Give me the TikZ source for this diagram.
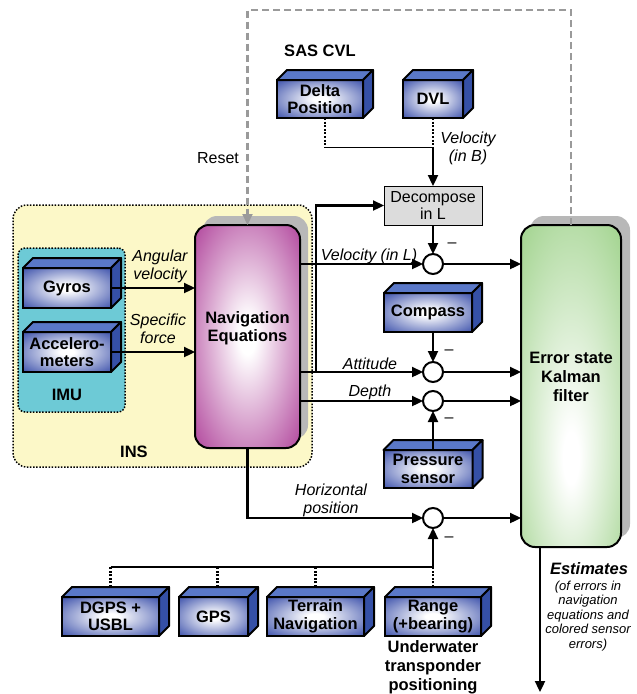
\documentclass[tikz,border=0pt]{standalone}
\usepackage{fontspec}
\setmainfont{Liberation Sans}
\usetikzlibrary{arrows.meta,calc,shadows}

\definecolor{bedge}{HTML}{3A4FAA}
\definecolor{btop}{HTML}{5A78C8}
\definecolor{bside}{HTML}{3550A6}
\definecolor{mag}{HTML}{B0449B}
\definecolor{kgreen}{HTML}{A3D490}
\definecolor{insy}{HTML}{FCF8C8}
\definecolor{imuc}{HTML}{6DCAD6}
\definecolor{shad}{HTML}{B8B8B8}
\definecolor{dgray}{HTML}{9A9A9A}
\definecolor{decg}{HTML}{DCDCDC}

\pgfdeclareradialshading{blueglow}{\pgfpointorigin}{color(0bp)=(white); color(4bp)=(white); color(36bp)=(bedge); color(50bp)=(bedge)}
\pgfdeclareradialshading{magglow}{\pgfpointorigin}{color(0bp)=(white); color(4bp)=(white); color(36bp)=(mag); color(50bp)=(mag)}
\pgfdeclareradialshading{greenglow}{\pgfpoint{0bp}{-12bp}}{color(0bp)=(white); color(4bp)=(white); color(38bp)=(kgreen); color(60bp)=(kgreen)}

\newcommand\sensorbox[6]{%
  \node[blk, minimum width=#4pt, minimum height=#5pt] (#1) at (#2,#3) {#6};
  \draw[facel, fill=btop] (#1.north west) -- ++(10,-10) -- ($(#1.north east)+(10,-10)$) -- (#1.north east) -- cycle;
  \draw[facel, fill=bside] (#1.north east) -- ++(10,-10) -- ($(#1.south east)+(10,-10)$) -- (#1.south east) -- cycle;
}

\tikzset{
  blk/.style={draw=black, line width=2pt, shading=blueglow, outer sep=0pt, inner sep=0pt,
    align=center, font=\bfseries\fontsize{16.5}{17.5}\selectfont},
  facel/.style={line width=2pt, line join=round},
  arr/.style={line width=2.3pt, -{Triangle[length=11pt,width=10pt]}},
  plain/.style={line width=2.3pt},
  dotline/.style={line width=2.6pt, dash pattern=on 2pt off 1.6pt},
  sumc/.style={circle, draw, line width=2pt, fill=white, minimum size=20pt, inner sep=0pt, outer sep=0pt},
  lbl/.style={font=\itshape\fontsize{16}{18}\selectfont, align=center, inner sep=0pt},
  blbl/.style={font=\bfseries\fontsize{16.5}{19}\selectfont, align=center, inner sep=0pt},
  rlbl/.style={font=\fontsize{16}{18}\selectfont, align=center, inner sep=0pt},
  minus/.style={font=\fontsize{16}{18}\selectfont, inner sep=0pt},
}

\begin{document}
\begin{tikzpicture}[x=1pt,y=-1pt]
\useasboundingbox (0,0) rectangle (637,694);

% INS and IMU containers
\node[draw, line width=1.5pt, dash pattern=on 1.5pt off 1.6pt, rounded corners=14pt, fill=insy,
  minimum width=299pt, minimum height=262pt, outer sep=0pt] (ins) at (162.5,336) {};
\node[draw, line width=1.5pt, dash pattern=on 1.5pt off 1.6pt, rounded corners=7pt, fill=imuc,
  minimum width=107pt, minimum height=164pt, outer sep=0pt] (imu) at (71.5,330) {};
\node[blbl] (imulbl) at (67,395) {IMU};
\node[blbl] (inslbl) at (134,452) {INS};

% Navigation equations
\node[draw, line width=2pt, rounded corners=14pt, shading=magglow, minimum width=105pt, minimum height=223pt,
  outer sep=0pt, drop shadow={shadow xshift=8pt, shadow yshift=9pt, fill=shad, opacity=1}] (nav) at (247.5,336.5) {};
\node[blbl, font=\bfseries\fontsize{16.5}{18}\selectfont] (navtxt) at (247.5,328) {Navigation\\Equations};

% Kalman filter
\node[draw, line width=2pt, rounded corners=14pt, shading=greenglow, minimum width=100pt, minimum height=322pt,
  outer sep=0pt, drop shadow={shadow xshift=9pt, shadow yshift=9pt, fill=shad, opacity=1}] (kal) at (571,386) {};
\node[blbl, font=\bfseries\fontsize{16.5}{19}\selectfont] (kaltxt) at (571,377) {Error state\\Kalman\\filter};

% Sensors
\sensorbox{gyro}{67}{288}{88}{40}{Gyros}
\sensorbox{acc}{67}{352}{88}{40}{Accelero-\\meters}
\sensorbox{dp}{320}{99}{86}{38}{Delta\\Position}
\sensorbox{dvl}{433}{99}{60}{38}{DVL}
\sensorbox{comp}{428}{312.5}{88}{39}{Compass}
\sensorbox{pres}{428}{469}{89}{38}{Pressure\\sensor}
\sensorbox{dgps}{110.5}{616.5}{97}{39}{DGPS +\\USBL}
\sensorbox{gps}{213.5}{616.5}{69}{39}{GPS}
\sensorbox{terr}{315.5}{616.5}{97}{39}{Terrain\\Navigation}
\sensorbox{rng}{433}{616.5}{96}{39}{Range\\(+bearing)}

% Decompose and summation points
\node[draw, line width=0.8pt, fill=decg, minimum width=98pt, minimum height=39pt, outer sep=0pt,
  align=center, font=\fontsize{16}{17.5}\selectfont, inner sep=0pt] (dec) at (433,205.5) {Decompose\\in L};
\node[sumc] (s1) at (433,264) {};
\node[sumc] (s2) at (433,372) {};
\node[sumc] (s3) at (433,401) {};
\node[sumc] (s4) at (433,518) {};

% Reset feedback (dashed gray)
\coordinate (topr) at (571,10);
\draw[dgray, line width=2.2pt, dash pattern=on 7pt off 4pt, -{Triangle[length=11pt,width=10pt]}]
  (kal.north) -- (topr) -| (nav.north);
\node[rlbl] (reset) at (218,158) {Reset};

% IMU to Nav
\draw[arr] (gyro.east) -- (gyro.east -| nav.west);
\draw[arr] (acc.east) -- (acc.east -| nav.west);
\node[lbl] (angv) at (160,266) {Angular\\velocity};
\node[lbl] (spf) at (158,329) {Specific\\force};

% SAS / DVL to Decompose
\coordinate (vb) at (433,147);
\draw[dotline] ([xshift=5pt]dp.south) -- ([xshift=5pt]dp.south |- vb);
\draw[dotline] (dvl.south) -- (vb);
\draw[line width=1pt] ([xshift=5pt]dp.south |- vb) -- (vb);
\draw[arr] (vb) -- (dec.north);
\node[blbl] (sascvl) at (320,51) {SAS CVL};
\node[lbl] (velb) at (468,148) {Velocity\\(in B)};

% Nav outputs
\coordinate (attj) at (316,372);
\draw[arr] (nav.east |- s1) -- (s1.west);
\draw[arr] (nav.east |- s2) -- (s2.west);
\draw[arr] (nav.east |- s3) -- (s3.west);
\draw[arr] (attj) |- (dec.west);
\draw[arr] (nav.south) |- (s4.west);
\node[lbl] (vell) at (369,256) {Velocity (in L)};
\node[lbl] (att) at (370,364) {Attitude};
\node[lbl] (dep) at (370,392) {Depth};
\node[lbl] (hpos) at (331,500) {Horizontal\\position};

% Aiding sensors into summation points
\draw[arr] (dec.south) -- (s1.north);
\draw[arr] (comp.south -| s2) -- (s2.north);
\draw[arr] (pres.north -| s3) -- (s3.south);
\node[minus] (m1) at (452,245) {--};
\node[minus] (m2) at (449,352) {--};
\node[minus] (m3) at (449,420) {--};
\node[minus] (m4) at (449,539) {--};

% Position bus
\coordinate (bus) at (433,567);
\draw[dotline] ($(dgps.north)+(0,-10)$) -- (dgps.north |- bus);
\draw[dotline] ($(gps.north)+(4,-10)$) -- ([xshift=4pt]gps.north |- bus);
\draw[dotline] ($(terr.north)+(0,-10)$) -- (terr.north |- bus);
\draw[dotline] ($(rng.north)+(0,-10)$) -- (bus);
\draw[plain] (dgps.north |- bus) -- (bus);
\draw[arr] (bus) -- (s4.south);
\node[blbl] (uwt) at (433,667) {Underwater\\transponder\\positioning};

% Summation points to Kalman
\draw[arr] (s1.east) -- (s1 -| kal.west);
\draw[arr] (s2.east) -- (s2 -| kal.west);
\draw[arr] (s3.east) -- (s3 -| kal.west);
\draw[arr] (s4.east) -- (s4 -| kal.west);

% Estimates
\coordinate (estend) at (540,692);
\draw[arr] (kal.south -| estend) -- (estend);
\node[font=\bfseries\itshape\fontsize{16.5}{18}\selectfont, inner sep=0pt] (est) at (589,569) {Estimates};
\node[font=\itshape\fontsize{13}{14.5}\selectfont, align=center, inner sep=0pt] (estd) at (588,616) {(of errors in\\navigation\\equations and\\colored sensor\\errors)};
\end{tikzpicture}
\end{document}
